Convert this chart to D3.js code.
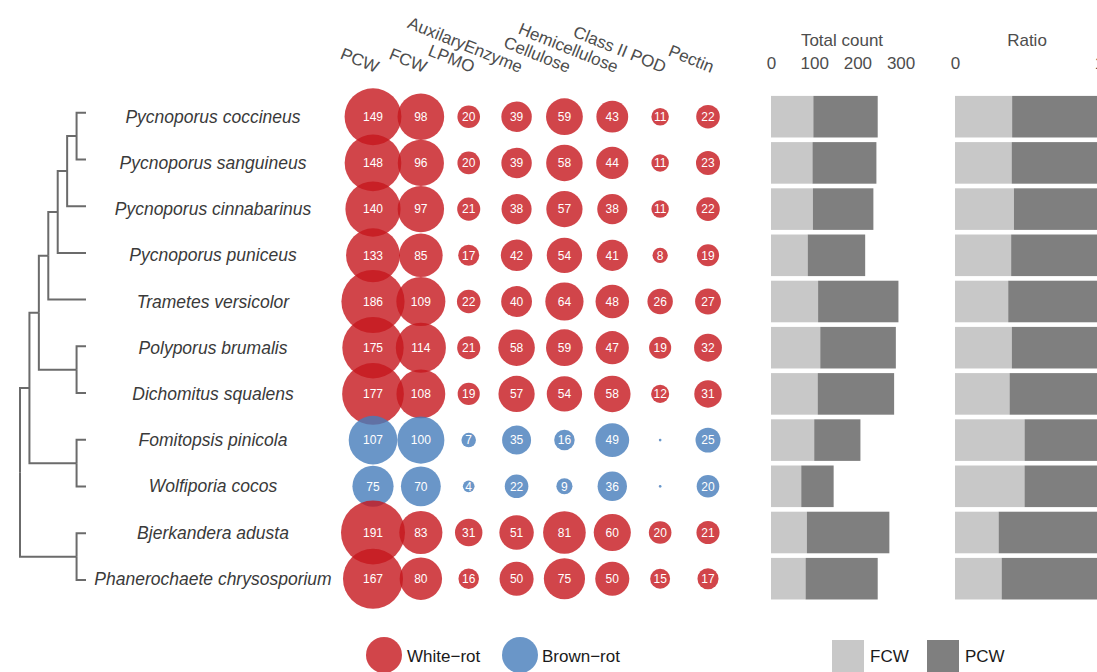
<!DOCTYPE html>
<html>
<head>
<meta charset="utf-8">
<script src="https://cdn.jsdelivr.net/npm/d3@7"></script>
<style>
  body { margin: 0; background: #fff; }
  text { font-family: "Liberation Sans", Arial, sans-serif; }
</style>
</head>
<body>
<div class="chart"></div>
<script>
// data
const species = [
  "Pycnoporus coccineus", "Pycnoporus sanguineus", "Pycnoporus cinnabarinus",
  "Pycnoporus puniceus", "Trametes versicolor", "Polyporus brumalis",
  "Dichomitus squalens", "Fomitopsis pinicola", "Wolfiporia cocos",
  "Bjerkandera adusta", "Phanerochaete chrysosporium"
];
const rotType = ["White-rot", "White-rot", "White-rot", "White-rot", "White-rot", "White-rot",
  "White-rot", "Brown-rot", "Brown-rot", "White-rot", "White-rot"];
const enzymes = ["PCW", "FCW", "LPMO", "AuxilaryEnzyme", "Cellulose", "Hemicellulose", "Class II POD", "Pectin"];

const pcw = [149, 148, 140, 133, 186, 175, 177, 107, 75, 191, 167];
const fcw = [98, 96, 97, 85, 109, 114, 108, 100, 70, 83, 80];
const lpmo = [20, 20, 21, 17, 22, 21, 19, 7, 4, 31, 16];
const auxEnz = [39, 39, 38, 42, 40, 58, 57, 35, 22, 51, 50];
const cellulose = [59, 58, 57, 54, 64, 59, 54, 16, 9, 81, 75];
const hemicellulose = [43, 44, 38, 41, 48, 47, 58, 49, 36, 60, 50];
const pod = [11, 11, 11, 8, 26, 19, 12, 0, 0, 20, 15];
const pectin = [22, 23, 22, 19, 27, 32, 31, 25, 20, 21, 17];

const countTicks = [0, 100, 200, 300];
const ratioTicks = [0, 1];

// tree topology, h = node depth from the tips
const tree = {h: 7, children: [
  {h: 6, children: [
    {h: 5, children: [
      {h: 4, children: [
        {h: 3, children: [
          {h: 2, children: [
            {h: 1, children: [{name: species[0]}, {name: species[1]}]},
            {name: species[2]}]},
          {name: species[3]}]},
        {name: species[4]}]},
      {h: 1, children: [{name: species[5]}, {name: species[6]}]}]},
    {h: 1, children: [{name: species[7]}, {name: species[8]}]}]},
  {h: 1, children: [{name: species[9]}, {name: species[10]}]}
]};

let svgWidth = 1097;
let svgHeight = 672;

var svg = d3.select(".chart")
  .append("svg")
  .attr("width", svgWidth)
  .attr("height", svgHeight);

const textCol = "#4d4d4d";
const rotColor = {"White-rot": "#c5161d", "Brown-rot": "#457cba"};

// scales
let rowY = d3.scalePoint().domain(species).range([116.7, 578.7]);
let treeY = d3.scalePoint().domain(species).range([112.7, 580]);
let treeX = d3.scaleLinear().domain([0, 7]).range([86, 20]);
let colX = d3.scalePoint().domain(enzymes).range([373, 708]);
let rScale = d3.scaleSqrt().domain([0, 191]).range([1.4, 32]);
let countX = d3.scaleLinear().domain([0, 300]).range([771, 900.6]);
let ratioX = d3.scaleLinear().domain([0, 1]).range([955, 1099]);
const barH = rowY.step() * 0.9;

// ---- dendrogram ----
let root = d3.hierarchy(tree);
root.eachAfter(function(n) {
  if (n.children) {
    n.y = d3.mean(n.children, c => c.y);
    n.x = treeX(n.data.h);
  } else {
    n.y = treeY(n.data.name);
    n.x = treeX(0);
  }
});
svg.append("g").selectAll("path")
  .data(root.descendants().filter(d => d.parent))
  .enter().append("path")
  .attr("d", d => `M${d.parent.x},${d.parent.y}V${d.y}H${d.x}`)
  .attr("fill", "none")
  .attr("stroke", "#6b6b6b")
  .attr("stroke-width", 2);

// species labels
svg.append("g").selectAll("text")
  .data(species)
  .enter().append("text")
  .attr("x", 213)
  .attr("y", d => rowY(d) + 6)
  .attr("text-anchor", "middle")
  .attr("font-style", "italic")
  .attr("font-size", 17.5)
  .attr("fill", "#3a3a3a")
  .text(d => d);

// ---- bubble matrix ----
const columns = [pcw, fcw, lpmo, auxEnz, cellulose, hemicellulose, pod, pectin];
let cells = [];
species.forEach(function(s, i) {
  enzymes.forEach(function(e, j) {
    cells.push({sp: s, enz: e, value: columns[j][i], rot: rotType[i]});
  });
});

svg.append("g").selectAll("circle")
  .data(cells)
  .enter().append("circle")
  .attr("cx", d => colX(d.enz))
  .attr("cy", d => rowY(d.sp))
  .attr("r", d => rScale(d.value))
  .attr("fill", d => rotColor[d.rot])
  .attr("fill-opacity", 0.8);

svg.append("g").selectAll("text")
  .data(cells)
  .enter().append("text")
  .attr("x", d => colX(d.enz))
  .attr("y", d => rowY(d.sp))
  .attr("dy", "0.36em")
  .attr("text-anchor", "middle")
  .attr("font-size", 12)
  .attr("fill", "#fff")
  .text(d => d.value);

// column headers
svg.append("g").selectAll("text")
  .data(enzymes)
  .enter().append("text")
  .attr("transform", d => `translate(${colX(d) + 3}, 73) rotate(22)`)
  .attr("text-anchor", "end")
  .attr("font-size", 17)
  .attr("fill", textCol)
  .text(d => d);

// ---- total count bars ----
let countG = svg.append("g");
countG.selectAll(".fcw")
  .data(species)
  .enter().append("rect")
  .attr("x", countX(0))
  .attr("y", d => rowY(d) - barH / 2)
  .attr("width", (d, i) => countX(fcw[i]) - countX(0))
  .attr("height", barH)
  .attr("fill", "#c8c8c8");
countG.selectAll(".pcw")
  .data(species)
  .enter().append("rect")
  .attr("x", (d, i) => countX(fcw[i]))
  .attr("y", d => rowY(d) - barH / 2)
  .attr("width", (d, i) => countX(fcw[i] + pcw[i]) - countX(fcw[i]))
  .attr("height", barH)
  .attr("fill", "#7f7f7f");

// ---- ratio bars ----
let ratioG = svg.append("g");
ratioG.selectAll(".fcw")
  .data(species)
  .enter().append("rect")
  .attr("x", ratioX(0))
  .attr("y", d => rowY(d) - barH / 2)
  .attr("width", (d, i) => ratioX(fcw[i] / (fcw[i] + pcw[i])) - ratioX(0))
  .attr("height", barH)
  .attr("fill", "#c8c8c8");
ratioG.selectAll(".pcw")
  .data(species)
  .enter().append("rect")
  .attr("x", (d, i) => ratioX(fcw[i] / (fcw[i] + pcw[i])))
  .attr("y", d => rowY(d) - barH / 2)
  .attr("width", (d, i) => ratioX(1) - ratioX(fcw[i] / (fcw[i] + pcw[i])))
  .attr("height", barH)
  .attr("fill", "#7f7f7f");

// axes on top of the bar panels
function styleAxis(g) {
  g.select(".domain").remove();
  g.selectAll("text")
    .attr("font-size", 17)
    .attr("fill", textCol)
    .style("font-family", "'Liberation Sans', Arial, sans-serif");
}
svg.append("g")
  .attr("transform", "translate(0, 69)")
  .call(d3.axisTop(countX).tickValues(countTicks).tickSize(0).tickPadding(0))
  .call(styleAxis);
svg.append("g")
  .attr("transform", "translate(0, 69)")
  .call(d3.axisTop(ratioX).tickValues(ratioTicks).tickSize(0).tickPadding(0).tickFormat(d3.format("d")))
  .call(styleAxis);

svg.append("text")
  .attr("x", 842).attr("y", 46)
  .attr("text-anchor", "middle")
  .attr("font-size", 17).attr("fill", textCol)
  .text("Total count");
svg.append("text")
  .attr("x", 1027).attr("y", 46)
  .attr("text-anchor", "middle")
  .attr("font-size", 17).attr("fill", textCol)
  .text("Ratio");

// ---- legends ----
let rotLegend = [
  {key: "White-rot", label: "White\u2212rot", cx: 384, tx: 407},
  {key: "Brown-rot", label: "Brown\u2212rot", cx: 520, tx: 542}
];
let lg = svg.append("g");
lg.selectAll("circle")
  .data(rotLegend)
  .enter().append("circle")
  .attr("cx", d => d.cx)
  .attr("cy", 655)
  .attr("r", 18)
  .attr("fill", d => rotColor[d.key])
  .attr("fill-opacity", 0.8);
lg.selectAll("text")
  .data(rotLegend)
  .enter().append("text")
  .attr("x", d => d.tx)
  .attr("y", 662)
  .attr("font-size", 17)
  .attr("fill", "#1a1a1a")
  .text(d => d.label);

let barLegend = [
  {label: "FCW", fill: "#c8c8c8", x: 832},
  {label: "PCW", fill: "#7f7f7f", x: 927}
];
let bl = svg.append("g");
bl.selectAll("rect")
  .data(barLegend)
  .enter().append("rect")
  .attr("x", d => d.x)
  .attr("y", 640)
  .attr("width", 32)
  .attr("height", 32)
  .attr("fill", d => d.fill);
bl.selectAll("text")
  .data(barLegend)
  .enter().append("text")
  .attr("x", d => d.x + 38)
  .attr("y", 662)
  .attr("font-size", 17)
  .attr("fill", "#1a1a1a")
  .text(d => d.label);
</script>
</body>
</html>
